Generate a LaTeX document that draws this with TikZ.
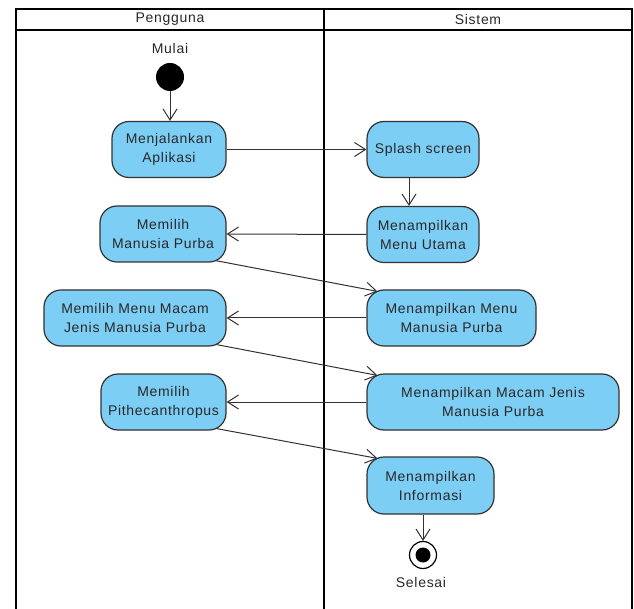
\documentclass[tikz,border=0pt]{standalone}
\usepackage{fontspec}
\setmainfont{Liberation Sans}[LetterSpace=5]
\usetikzlibrary{arrows.meta,calc}
\definecolor{actfill}{RGB}{125,206,245}
\definecolor{actline}{RGB}{50,50,50}
\definecolor{txt}{RGB}{40,40,40}
\begin{document}
\begin{tikzpicture}[x=1pt,y=-1pt,
  font=\fontsize{14}{19}\selectfont,
  act/.style={draw=actline,line width=1.2pt,fill=actfill,rounded corners=17pt,
    align=center,text=txt,inner sep=0pt,minimum height=56pt},
  lane/.style={draw=black,line width=2.2pt},
  flow/.style={draw=actline,line width=1pt,-{Straight Barb[length=11pt,width=14pt,line width=1pt]}},
  lbl/.style={text=txt,inner sep=0pt}]
\useasboundingbox (0,0) rectangle (634,609);
\clip (0,0) rectangle (634,609);
% swimlanes
\draw[lane] (16,620) -- (16,9) -- (632,9) -- (632,620);
\draw[lane] (16,30) -- (632,30);
\draw[lane] (324,9) -- (324,620);
\node[lbl] (hp) at (170,19.5) {Pengguna};
\node[lbl] (hs) at (478,19.5) {Sistem};
% start
\node[lbl] (mulai) at (170,48) {Mulai};
\node[circle,fill=black,minimum size=28pt,inner sep=0pt] (start) at (170,77) {};
% activities
\node[act,minimum width=114pt] (menj) at (169,149.5) {Menjalankan\\Aplikasi};
\node[act,minimum width=112pt] (splash) at (423,149.5) {Splash screen};
\node[act,minimum width=112pt] (mmu) at (423,234.5) {Menampilkan\\Menu Utama};
\node[act,minimum width=126pt] (mmp) at (163,234) {Memilih\\Manusia Purba};
\node[act,minimum width=169pt] (mmmp) at (451.5,318) {Menampilkan Menu\\Manusia Purba};
\node[act,minimum width=182pt] (mmmj) at (135,318) {Memilih Menu Macam\\Jenis Manusia Purba};
\node[act,minimum width=125pt] (mpith) at (163.5,402) {Memilih\\Pithecanthropus};
\node[act,minimum width=252pt] (mmjmp) at (493,402) {Menampilkan Macam Jenis\\Manusia Purba};
\node[act,minimum width=127pt,minimum height=57pt] (mi) at (430.5,485.5) {Menampilkan\\Informasi};
% end
\node[circle,draw=black,line width=1.2pt,fill=white,minimum size=27pt,inner sep=0pt] (end) at (423,555) {};
\node[circle,fill=black,minimum size=15pt,inner sep=0pt] (endin) at (end.center) {};
\node[lbl] (selesai) at (421,582) {Selesai};
% flows
\draw[flow] (start) -- (start |- menj.north);
\draw[flow] (menj.east) -- (splash.west);
\draw[flow] ([xshift=-14pt]splash.south) -- ([xshift=-14pt]mmu.north);
\draw[flow] (mmu.west) -- (mmp.east);
\draw[flow] ([xshift=-11pt,yshift=2pt]mmp.south east) -- ([xshift=11pt,yshift=-2pt]mmmp.north west);
\draw[flow] (mmmp.west) -- (mmmj.east);
\draw[flow] ([xshift=-10pt,yshift=2pt]mmmj.south east) -- ([xshift=11pt,yshift=-2pt]mmjmp.north west);
\draw[flow] (mmjmp.west) -- (mpith.east);
\draw[flow] ([xshift=-10pt,yshift=2pt]mpith.south east) -- ([xshift=11pt,yshift=-2pt]mi.north west);
\draw[flow] (mi.south -| end) -- (end.north);
\end{tikzpicture}
\end{document}
